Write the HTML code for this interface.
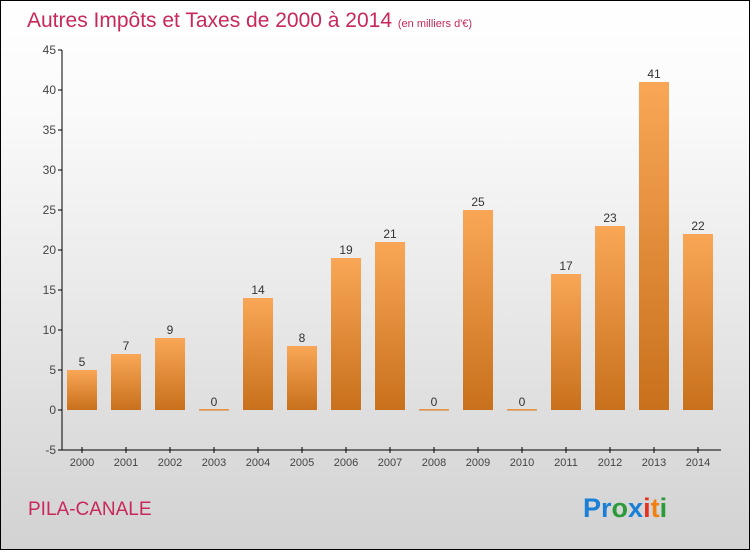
<!DOCTYPE html>
<html><head><meta charset="utf-8"><style>
body{margin:0}
#c{width:748px;height:548px;border:1px solid #000;background:linear-gradient(#fff,#fafafa 20%,#d2d2d2);position:relative;font-family:"Liberation Sans",sans-serif;overflow:hidden}
</style></head><body>
<div id="c">
<svg width="748" height="548">
<defs><linearGradient id="bg" x1="0" y1="0" x2="0" y2="1"><stop offset="0" stop-color="#f9a756"/><stop offset="1" stop-color="#c8701c"/></linearGradient></defs>
<text x="26" y="26" font-size="21" fill="#c8285a">Autres Impôts et Taxes de 2000 à 2014 <tspan font-size="11">(en milliers d'€)</tspan></text>
<g id="plot"></g>
<text x="27" y="514" font-size="19" fill="#c8285a">PILA-CANALE</text>
<text x="582" y="516" font-size="27" font-weight="bold"><tspan fill="#1a7fd6">Pr</tspan><tspan fill="#2a9a3a">o</tspan><tspan fill="#1a7fd6">x</tspan><tspan fill="#e83020">i</tspan><tspan fill="#f08010">t</tspan><tspan fill="#2a9a3a">i</tspan></text>
</svg></div>
<script>
const categories=["2000","2001","2002","2003","2004","2005","2006","2007","2008","2009","2010","2011","2012","2013","2014"];
const values=[5,7,9,0,14,8,19,21,0,25,0,17,23,41,22];
const yTicks=[-5,0,5,10,15,20,25,30,35,40,45];
const NS="http://www.w3.org/2000/svg";
const g=document.getElementById('plot');
const y=v=>409-(v)*8;
const x=i=>81+i*44;
function mk(t,a){const e=document.createElementNS(NS,t);for(const k in a)e.setAttribute(k,a[k]);g.appendChild(e);return e;}
let ax=mk('line',{x1:61,y1:y(-5),x2:61,y2:y(45),stroke:'#000'});

let bx=mk('line',{x1:61,y1:y(-5),x2:720,y2:y(-5),stroke:'#000'});

yTicks.forEach(t=>{
 let l=mk('line',{x1:57,x2:61,y1:y(t),y2:y(t),stroke:'#000'});
 
 let tx=mk('text',{x:55,y:y(t)+4,'text-anchor':'end','font-size':12,fill:'#444'});tx.textContent=t;
 
});
categories.forEach((c,i)=>{
 const v=values[i];
 let l=mk('line',{x1:x(i),x2:x(i),y1:y(-5)-3,y2:y(-5)+3,stroke:'#000'});
 
 let tx=mk('text',{x:x(i),y:y(-5)+16,'text-anchor':'middle','font-size':11,fill:'#444'});tx.textContent=c;
 
 const top=Math.min(y(v),y(0)), h=Math.max(Math.abs(y(0)-y(v)),1.5);
 let r=mk('rect',{x:x(i)-15,y:v===0?y(0)-1:top,width:30,height:h,fill:'url(#bg)'});
 
 let vt=mk('text',{x:x(i),y:Math.min(y(v),y(0))-4,'text-anchor':'middle','font-size':12,fill:'#333'});vt.textContent=v;
 
});
</script>
</body></html>
